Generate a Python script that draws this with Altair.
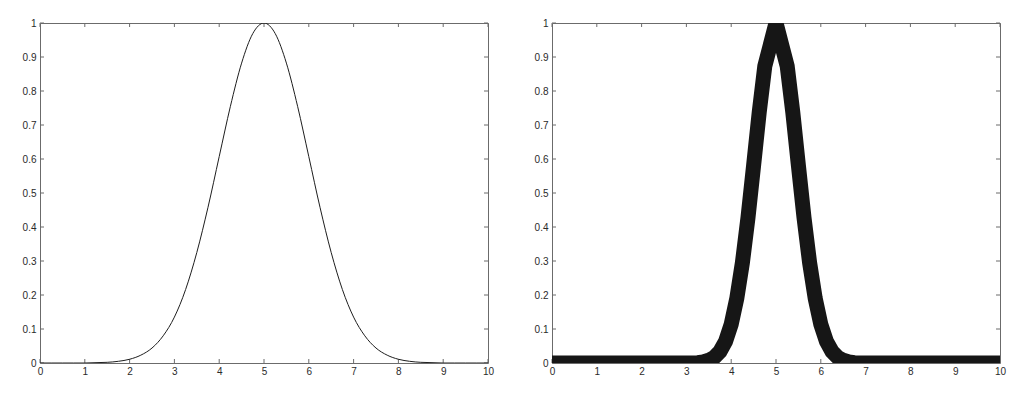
import altair as alt
import pandas as pd

# left panel: x grid and wide bell curve
left_x = [0.0, 0.25, 0.5, 0.75, 1.0, 1.25, 1.5, 1.75, 2.0, 2.25, 2.5, 2.75,
          3.0, 3.25, 3.5, 3.75, 4.0, 4.25, 4.5, 4.75, 5.0, 5.25, 5.5, 5.75,
          6.0, 6.25, 6.5, 6.75, 7.0, 7.25, 7.5, 7.75, 8.0, 8.25, 8.5, 8.75,
          9.0, 9.25, 9.5, 9.75, 10.0]
left_y = [0, 0, 0, 0, 0, 0.001, 0.002, 0.005, 0.011, 0.023, 0.044, 0.080,
          0.135, 0.216, 0.325, 0.458, 0.607, 0.755, 0.882, 0.969, 1.0,
          0.969, 0.882, 0.755, 0.607, 0.458, 0.325, 0.216, 0.135, 0.080,
          0.044, 0.023, 0.011, 0.005, 0.002, 0.001, 0, 0, 0, 0, 0]

# right panel: x grid and narrow bell curve (thick line)
right_x = [0.0, 0.5, 1.0, 1.5, 2.0, 2.5, 3.0, 3.25, 3.375, 3.5, 3.625, 3.75,
           3.875, 4.0, 4.125, 4.25, 4.375, 4.5, 4.625, 4.75, 5.0, 5.25,
           5.375, 5.5, 5.625, 5.75, 5.875, 6.0, 6.125, 6.25, 6.375, 6.5,
           6.625, 6.75, 7.0, 7.5, 8.0, 8.5, 9.0, 9.5, 10.0]
right_y = [0, 0, 0, 0, 0, 0, 0, 0.001, 0.003, 0.008, 0.017, 0.034,
           0.064, 0.114, 0.190, 0.295, 0.428, 0.581, 0.737, 0.873, 1.0, 0.873,
           0.737, 0.581, 0.428, 0.295, 0.190, 0.114, 0.064, 0.034, 0.017, 0.008,
           0.003, 0.001, 0, 0, 0, 0, 0, 0, 0]

x_ticks = [0, 1, 2, 3, 4, 5, 6, 7, 8, 9, 10]
y_ticks = [0, 0.1, 0.2, 0.3, 0.4, 0.5, 0.6, 0.7, 0.8, 0.9, 1]

W, H = 448, 340
TICK = 4
FRAME = "#6b6b6b"

xscale = alt.Scale(domain=[0, 10], nice=False, zero=False)
yscale = alt.Scale(domain=[0, 1], nice=False, zero=False)

xtick_df = pd.DataFrame({"t": x_ticks})
ytick_df = pd.DataFrame({"t": y_ticks})

x_axis = alt.Axis(values=x_ticks, ticks=False, domain=False, grid=False,
                  title=None, labelPadding=3, labelExpr="'' + datum.value",
                  labelFlush=False)
y_axis = alt.Axis(values=y_ticks, ticks=False, domain=False, grid=False,
                  title=None, labelPadding=4, labelExpr="'' + datum.value",
                  labelFlush=False, minExtent=31, maxExtent=31)


def panel(xvals, yvals, width_px, color, interp):
    df = pd.DataFrame({"x": xvals, "y": yvals})
    xb = alt.Chart(xtick_df).mark_rule(color=FRAME, strokeWidth=1).encode(
        x=alt.X("t:Q", scale=xscale, axis=x_axis),
        y=alt.value(H), y2=alt.value(H - TICK))
    yl = alt.Chart(ytick_df).mark_rule(color=FRAME, strokeWidth=1).encode(
        y=alt.Y("t:Q", scale=yscale, axis=y_axis),
        x=alt.value(0), x2=alt.value(TICK))
    xt = alt.Chart(xtick_df).mark_rule(color=FRAME, strokeWidth=1).encode(
        x=alt.X("t:Q", scale=xscale, axis=x_axis),
        y=alt.value(0), y2=alt.value(TICK))
    yr = alt.Chart(ytick_df).mark_rule(color=FRAME, strokeWidth=1).encode(
        y=alt.Y("t:Q", scale=yscale, axis=y_axis),
        x=alt.value(W), x2=alt.value(W - TICK))
    line = alt.Chart(df).mark_line(color=color, strokeWidth=width_px, clip=True,
                                   interpolate=interp).encode(
        x=alt.X("x:Q", scale=xscale, axis=x_axis),
        y=alt.Y("y:Q", scale=yscale, axis=y_axis),
    )
    return alt.layer(xb, yl, xt, yr, line).properties(width=W, height=H)


left = panel(left_x, left_y, 1, "#1e1e1e", "monotone")
right = panel(right_x, right_y, 15, "#161616", "linear")

chart = alt.hconcat(left, right, spacing=64, bounds="flush").properties(
    padding={"left": 0, "top": 9, "right": 5, "bottom": 0}
).configure_view(
    stroke=FRAME, strokeWidth=1
).configure_axis(
    labelFont="Liberation Sans", labelFontSize=10, labelColor="#2a2a2a"
)

chart.save("out.html", embed_options={"renderer": "svg", "actions": False})
